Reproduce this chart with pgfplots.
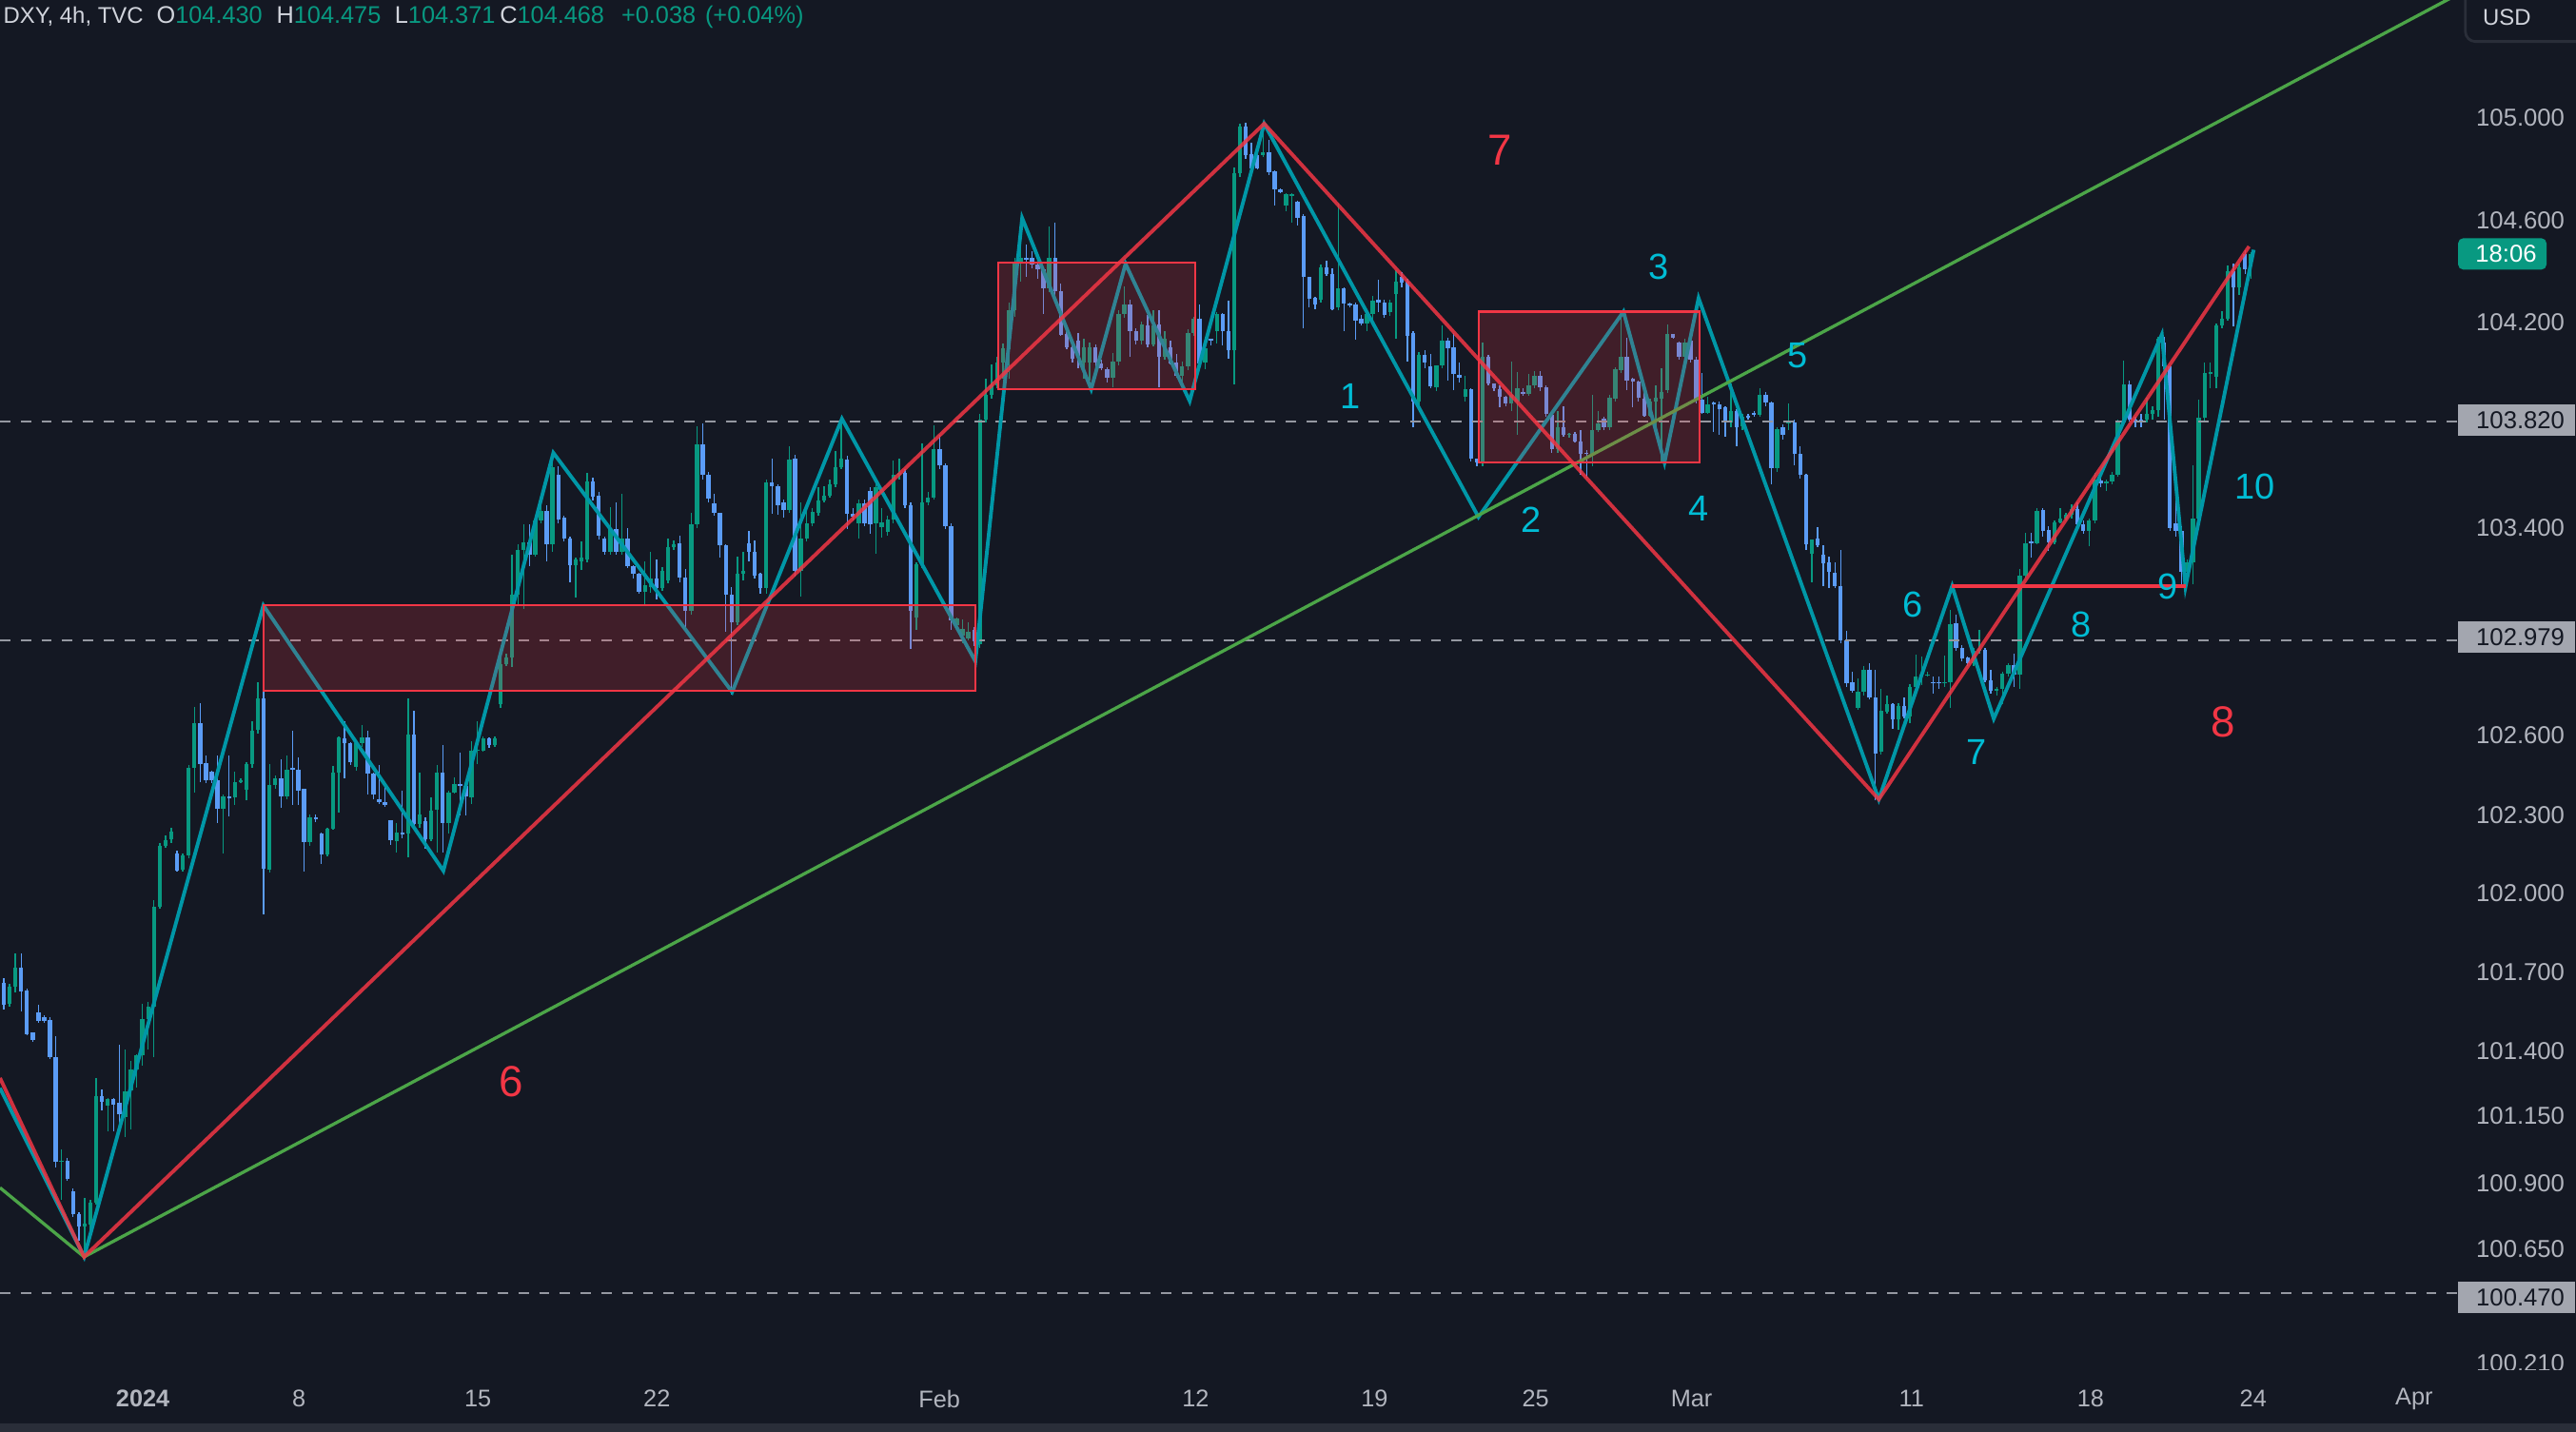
\documentclass[border=0pt]{standalone}
\usepackage{pgfplots}
\pgfplotsset{compat=1.18}
\usepackage{pgfplotstable}
\usepackage{fontspec}
\setmainfont{Liberation Sans}
\definecolor{bg}{RGB}{20,24,35}
\definecolor{upc}{RGB}{8,153,129}
\definecolor{dnc}{RGB}{91,156,246}
\definecolor{zig}{RGB}{0,151,167}
\definecolor{cyanlbl}{RGB}{0,188,212}
\definecolor{redc}{RGB}{242,54,69}
\definecolor{grn}{RGB}{76,165,72}
\definecolor{dashg}{RGB}{149,152,161}
\definecolor{tickg}{RGB}{178,181,190}
\definecolor{hdrg}{RGB}{209,212,220}
\definecolor{lblbg}{RGB}{163,166,175}
\definecolor{sepc}{RGB}{42,46,57}

\pgfplotstableread{
o h l c
101.661 101.68 101.56 101.580
101.580 101.66 101.57 101.646
101.646 101.776 101.624 101.721
101.721 101.776 101.553 101.630
101.635 101.64 101.46 101.467
101.470 101.47 101.435 101.442
101.548 101.580 101.51 101.517
101.529 101.54 101.51 101.517
101.520 101.53 101.37 101.376
101.376 101.459 100.952 100.976
100.976 101.023 100.827 100.980
100.980 100.99 100.90 100.908
100.861 100.87 100.76 100.772
100.772 100.78 100.670 100.725
100.725 100.835 100.607 100.736
100.733 100.83 100.70 100.819
100.819 101.297 100.81 101.227
101.227 101.253 101.172 101.206
101.191 101.22 101.093 101.216
101.216 101.22 101.093 101.195
101.200 101.423 101.117 101.156
101.148 101.407 101.070 101.247
101.247 101.360 101.100 101.329
101.329 101.39 101.26 101.384
101.384 101.580 101.344 101.525
101.525 101.588 101.407 101.572
101.572 101.980 101.376 101.956
101.956 102.20 101.95 102.191
102.191 102.23 102.18 102.210
102.215 102.26 102.20 102.246
102.160 102.17 102.09 102.097
102.097 102.16 102.09 102.152
102.152 102.50 102.14 102.489
102.489 102.725 102.395 102.662
102.662 102.740 102.435 102.505
102.508 102.536 102.43 102.442
102.474 102.48 102.43 102.442
102.442 102.536 102.278 102.333
102.333 102.387 102.160 102.380
102.380 102.536 102.301 102.376
102.376 102.474 102.348 102.435
102.435 102.45 102.43 102.442
102.408 102.51 102.364 102.505
102.505 102.670 102.489 102.634
102.634 102.819 102.62 102.756
102.756 102.787 101.925 102.100
102.100 102.505 102.089 102.424
102.424 102.46 102.41 102.450
102.450 102.521 102.336 102.380
102.380 102.536 102.37 102.482
102.489 102.631 102.348 102.482
102.482 102.529 102.345 102.403
102.408 102.41 102.089 102.204
102.204 102.31 102.19 102.301
102.301 102.31 102.28 102.293
102.238 102.24 102.121 102.157
102.157 102.26 102.15 102.254
102.254 102.497 102.25 102.471
102.471 102.61 102.317 102.607
102.602 102.670 102.450 102.584
102.584 102.59 102.50 102.513
102.494 102.59 102.48 102.584
102.584 102.654 102.57 102.607
102.607 102.631 102.387 102.466
102.466 102.47 102.37 102.387
102.369 102.50 102.35 102.357
102.357 102.43 102.34 102.348
102.287 102.29 102.192 102.210
102.210 102.277 102.162 102.242
102.242 102.401 102.217 102.236
102.236 102.759 102.147 102.617
102.617 102.708 102.26 102.274
102.274 102.471 102.26 102.312
102.287 102.30 102.179 102.217
102.217 102.376 102.21 102.327
102.327 102.503 102.166 102.471
102.471 102.579 102.166 102.277
102.277 102.40 102.236 102.395
102.395 102.452 102.39 102.429
102.429 102.547 102.306 102.420
102.420 102.44 102.306 102.382
102.378 102.592 102.350 102.556
102.556 102.668 102.503 102.560
102.556 102.61 102.553 102.602
102.602 102.607 102.566 102.579
102.579 102.61 102.57 102.602
102.737 102.935 102.72 102.890
102.890 102.93 102.88 102.915
102.915 103.309 102.877 103.155
103.155 103.35 103.112 103.328
103.328 103.426 103.10 103.358
103.358 103.426 103.266 103.309
103.309 103.46 103.30 103.444
103.444 103.52 103.43 103.480
103.480 103.50 103.284 103.352
103.352 103.678 103.321 103.648
103.617 103.651 103.43 103.444
103.451 103.46 103.36 103.371
103.371 103.38 103.204 103.272
103.272 103.30 103.143 103.291
103.285 103.36 103.25 103.300
103.291 103.623 103.28 103.590
103.590 103.608 103.52 103.531
103.537 103.55 103.37 103.383
103.373 103.38 103.309 103.321
103.321 103.494 103.31 103.408
103.408 103.509 103.31 103.321
103.321 103.543 103.31 103.371
103.371 103.414 103.26 103.266
103.266 103.27 103.22 103.235
103.235 103.24 103.16 103.167
103.167 103.284 103.112 103.192
103.186 103.321 103.161 103.217
103.217 103.291 103.137 103.180
103.180 103.26 103.17 103.247
103.211 103.371 103.20 103.340
103.340 103.364 103.33 103.352
103.352 103.383 103.204 103.223
103.223 103.254 103.013 103.094
103.094 103.472 103.08 103.426
103.426 103.802 103.41 103.734
103.734 103.814 103.60 103.617
103.617 103.63 103.51 103.525
103.506 103.543 103.46 103.469
103.469 103.47 103.297 103.346
103.346 103.35 103.013 103.155
103.155 103.186 102.773 103.051
103.051 103.303 103.038 103.235
103.235 103.321 103.21 103.247
103.352 103.401 103.284 103.321
103.321 103.364 103.22 103.229
103.235 103.24 103.161 103.180
103.180 103.598 103.161 103.586
103.586 103.681 103.469 103.574
103.574 103.58 103.463 103.500
103.512 103.52 103.451 103.481
103.481 103.728 103.47 103.678
103.678 103.693 103.223 103.247
103.247 103.512 103.149 103.371
103.371 103.481 103.36 103.432
103.432 103.488 103.42 103.475
103.469 103.568 103.46 103.518
103.518 103.574 103.51 103.537
103.537 103.598 103.53 103.580
103.580 103.709 103.57 103.648
103.648 103.814 103.64 103.678
103.678 103.69 103.408 103.469
103.469 103.488 103.44 103.457
103.432 103.52 103.371 103.506
103.506 103.52 103.42 103.432
103.555 103.57 103.389 103.426
103.432 103.60 103.315 103.568
103.414 103.488 103.377 103.432
103.395 103.46 103.383 103.444
103.444 103.672 103.43 103.617
103.617 103.678 103.60 103.623
103.623 103.64 103.49 103.500
103.500 103.51 102.946 103.094
103.069 103.28 103.020 103.272
103.272 103.740 103.26 103.512
103.512 103.55 103.50 103.531
103.531 103.808 103.52 103.715
103.715 103.771 103.64 103.654
103.654 103.66 103.41 103.420
103.420 103.43 103.020 103.057
103.038 103.07 103.02 103.063
103.001 103.063 102.970 103.026
102.989 103.05 102.98 103.013
103.020 103.03 102.96 102.977
102.964 103.85 102.95 103.830
103.830 103.986 103.82 103.924
103.924 104.041 103.91 103.961
103.961 104.07 103.95 104.047
104.047 104.12 103.986 104.102
104.102 104.280 103.986 104.250
104.250 104.45 104.225 104.434
104.434 104.501 104.36 104.452
104.452 104.501 104.38 104.446
104.452 104.477 104.41 104.427
104.427 104.43 104.372 104.409
104.409 104.41 104.237 104.336
104.336 104.575 104.32 104.452
104.452 104.587 104.31 104.323
104.323 104.354 104.15 104.157
104.157 104.17 104.10 104.108
104.108 104.133 104.05 104.065
104.133 104.164 104.029 104.065
104.047 104.139 103.986 104.108
104.047 104.127 103.980 104.108
104.108 104.12 104.03 104.047
104.047 104.06 104.02 104.029
104.023 104.03 103.973 103.992
103.992 104.084 103.955 104.053
104.053 104.25 104.04 104.237
104.237 104.342 104.22 104.274
104.274 104.29 104.072 104.170
104.170 104.18 104.12 104.133
104.133 104.207 104.12 104.194
104.194 104.231 104.108 104.121
104.121 104.250 104.11 104.194
104.194 104.250 103.955 104.072
104.072 104.17 104.06 104.139
104.110 104.133 104.04 104.047
104.047 104.084 103.99 103.998
103.998 104.053 103.967 104.035
104.035 104.176 104.02 104.164
104.164 104.225 104.15 104.219
104.219 104.274 104.023 104.047
104.047 104.11 104.023 104.102
104.139 104.14 104.115 104.133
104.170 104.244 104.121 104.237
104.237 104.24 104.115 104.170
104.170 104.286 104.065 104.096
104.096 104.80 103.967 104.777
104.777 104.97 104.765 104.955
104.955 104.97 104.83 104.845
104.851 104.894 104.78 104.796
104.845 104.894 104.790 104.796
104.845 104.961 104.839 104.857
104.857 104.906 104.77 104.783
104.783 104.79 104.654 104.716
104.716 104.72 104.70 104.704
104.654 104.70 104.63 104.697
104.691 104.70 104.587 104.697
104.667 104.67 104.575 104.605
104.614 104.62 104.182 104.378
104.378 104.38 104.262 104.292
104.298 104.30 104.255 104.274
104.292 104.427 104.28 104.415
104.415 104.44 104.38 104.390
104.390 104.409 104.249 104.255
104.262 104.661 104.25 104.335
104.335 104.34 104.170 104.274
104.274 104.28 104.26 104.268
104.274 104.28 104.139 104.212
104.218 104.23 104.19 104.200
104.200 104.25 104.170 104.237
104.237 104.304 104.194 104.286
104.292 104.366 104.243 104.280
104.280 104.29 104.22 104.231
104.243 104.29 104.23 104.280
104.311 104.403 104.139 104.360
104.378 104.397 104.34 104.354
104.360 104.37 104.053 104.151
104.163 104.17 103.801 103.899
103.899 104.09 103.88 104.077
104.077 104.096 104.028 104.047
104.035 104.084 103.95 103.955
103.955 104.04 103.94 104.037
104.037 104.194 104.03 104.133
104.133 104.145 103.979 104.102
104.108 104.163 103.942 104.004
104.004 104.047 103.973 103.991
103.918 103.997 103.899 103.948
103.948 103.95 103.67 103.678
103.678 103.68 103.65 103.666
103.666 104.126 103.65 104.071
104.071 104.08 103.96 103.967
103.967 103.97 103.94 103.949
103.949 103.96 103.875 103.918
103.918 103.92 103.88 103.893
103.893 104.053 103.862 103.924
103.899 104.010 103.770 103.949
103.936 103.95 103.92 103.930
103.930 104.004 103.92 103.961
103.961 104.016 103.95 103.998
103.998 104.016 103.94 103.955
103.955 103.96 103.84 103.850
103.850 103.86 103.70 103.715
103.715 103.862 103.70 103.801
103.801 103.881 103.764 103.770
103.770 103.78 103.76 103.776
103.776 103.78 103.74 103.746
103.746 103.789 103.617 103.697
103.703 103.71 103.605 103.697
103.697 103.924 103.648 103.789
103.789 103.862 103.78 103.813
103.832 103.84 103.79 103.801
103.801 103.924 103.79 103.912
103.912 104.03 103.90 104.022
104.022 104.237 104.01 104.071
104.072 104.145 103.943 103.980
103.986 103.99 103.875 103.974
103.974 103.98 103.90 103.912
103.912 103.955 103.84 103.845
103.845 103.91 103.84 103.900
103.900 103.961 103.80 103.915
103.912 104.029 103.667 103.937
103.943 104.197 103.93 104.158
104.158 104.16 104.14 104.145
104.127 104.13 104.06 104.072
104.072 104.139 104.06 104.127
104.133 104.139 104.05 104.059
104.059 104.07 103.89 103.906
103.906 104.010 103.85 103.857
103.857 103.918 103.85 103.888
103.894 103.90 103.783 103.888
103.888 103.90 103.771 103.869
103.875 103.88 103.765 103.820
103.820 103.967 103.80 103.863
103.863 103.87 103.728 103.802
103.802 103.85 103.79 103.838
103.845 103.85 103.83 103.838
103.853 103.86 103.84 103.848
103.848 103.949 103.84 103.924
103.924 103.937 103.88 103.894
103.894 103.90 103.581 103.642
103.642 103.80 103.63 103.795
103.801 103.81 103.75 103.771
103.814 103.894 103.789 103.820
103.820 103.83 103.654 103.697
103.697 103.728 103.60 103.617
103.617 103.62 103.33 103.348
103.315 103.37 103.203 103.368
103.374 103.414 103.34 103.348
103.308 103.348 103.190 103.275
103.281 103.301 103.183 103.242
103.242 103.28 103.18 103.190
103.190 103.327 102.97 102.979
102.979 103.019 102.80 102.814
102.820 102.860 102.78 102.788
102.722 102.835 102.715 102.782
102.782 102.880 102.77 102.867
102.867 102.893 102.755 102.761
102.761 102.867 102.366 102.544
102.551 102.794 102.54 102.708
102.708 102.768 102.70 102.735
102.735 102.74 102.640 102.675
102.675 102.74 102.636 102.728
102.728 102.761 102.68 102.689
102.689 102.81 102.662 102.801
102.801 102.926 102.79 102.840
102.840 102.919 102.807 102.846
102.846 102.86 102.84 102.850
102.820 102.840 102.774 102.814
102.820 102.840 102.794 102.814
102.814 102.919 102.80 102.820
102.820 103.097 102.722 103.045
103.045 103.078 102.94 102.952
102.952 102.96 102.90 102.913
102.913 102.92 102.88 102.893
102.893 102.95 102.88 102.939
102.939 103.018 102.93 102.945
102.945 102.95 102.82 102.827
102.827 102.867 102.774 102.788
102.788 102.80 102.768 102.794
102.794 102.86 102.735 102.853
102.853 102.893 102.84 102.886
102.886 102.93 102.801 102.847
102.847 103.255 102.794 103.229
103.229 103.394 103.22 103.354
103.360 103.394 103.30 103.354
103.354 103.49 103.35 103.480
103.480 103.49 103.38 103.400
103.406 103.42 103.325 103.357
103.357 103.44 103.35 103.435
103.435 103.491 103.43 103.449
103.449 103.47 103.44 103.463
103.463 103.505 103.45 103.484
103.484 103.512 103.407 103.428
103.428 103.44 103.39 103.400
103.400 103.45 103.343 103.442
103.442 103.625 103.43 103.597
103.597 103.618 103.57 103.585
103.585 103.60 103.555 103.590
103.590 103.63 103.58 103.618
103.618 103.83 103.61 103.823
103.823 104.056 103.81 103.964
103.964 103.978 103.82 103.830
103.830 103.84 103.80 103.820
103.830 103.85 103.80 103.823
103.830 103.915 103.82 103.851
103.851 103.88 103.83 103.865
103.865 104.148 103.84 104.140
104.126 104.148 103.83 104.035
104.035 104.04 103.40 103.414
103.43 103.534 103.38 103.40
103.400 103.42 103.188 103.244
103.244 103.29 103.188 103.280
103.280 103.654 103.195 103.449
103.449 103.908 103.44 103.837
103.837 104.049 103.82 104.007
104.007 104.049 103.95 104.010
103.992 104.20 103.95 104.190
104.190 104.246 104.18 104.218
104.218 104.422 104.21 104.401
104.401 104.430 104.19 104.338
104.338 104.430 104.310 104.415
104.465 104.479 104.39 104.408
104.430 104.475 104.371 104.468
}\candles

\begin{document}
\begin{tikzpicture}
\fill[bg] (0,0) rectangle (27.07,15.05);
\fill[sepc] (0,0) rectangle (27.07,0.085);
\begin{axis}[
  at={(0cm,0.652cm)}, anchor=south west,
  width=25.896cm, height=14.398cm, scale only axis,
  xmin=-0.654, xmax=425.96, ymin=100.173, ymax=105.443,
  axis line style={draw=none}, ticks=none,
  clip mode=individual,
]
% wicks
\addplot[draw=none, forget plot, error bars/.cd, y dir=both, y explicit, error mark=none,
  error bar style={draw=upc, line width=0.38pt}]
  table[x expr=\coordindex, y expr={\thisrow{c}>=\thisrow{o} ? (\thisrow{h}+\thisrow{l})/2 : nan},
        y error expr={(\thisrow{h}-\thisrow{l})/2}] \candles;
\addplot[draw=none, forget plot, error bars/.cd, y dir=both, y explicit, error mark=none,
  error bar style={draw=dnc, line width=0.38pt}]
  table[x expr=\coordindex, y expr={\thisrow{c}<\thisrow{o} ? (\thisrow{h}+\thisrow{l})/2 : nan},
        y error expr={(\thisrow{h}-\thisrow{l})/2}] \candles;
% bodies
\addplot[draw=none, forget plot, error bars/.cd, y dir=both, y explicit, error mark=none,
  error bar style={draw=upc, line width=1.25pt}]
  table[x expr=\coordindex, y expr={\thisrow{c}>=\thisrow{o} ? (\thisrow{o}+\thisrow{c})/2 : nan},
        y error expr={max(abs(\thisrow{c}-\thisrow{o})/2,0.002)}] \candles;
\addplot[draw=none, forget plot, error bars/.cd, y dir=both, y explicit, error mark=none,
  error bar style={draw=dnc, line width=1.25pt}]
  table[x expr=\coordindex, y expr={\thisrow{c}<\thisrow{o} ? (\thisrow{o}+\thisrow{c})/2 : nan},
        y error expr={max(abs(\thisrow{c}-\thisrow{o})/2,0.002)}] \candles;
% dashed levels
\addplot[dashg, line width=0.55pt, dash pattern=on 3.1pt off 3.1pt] coordinates {(-0.654,103.82) (425.96,103.82)};
\addplot[dashg, line width=0.55pt, dash pattern=on 3.1pt off 3.1pt] coordinates {(-0.654,102.979) (425.96,102.979)};
\addplot[dashg, line width=0.55pt, dash pattern=on 3.1pt off 3.1pt] coordinates {(-0.654,100.47) (425.96,100.47)};
% teal zigzag
\addplot[zig, line width=1.1pt, line join=miter] coordinates {
(-0.654,101.257) (13.91,100.608) (44.94,103.114) (76.1,102.093) (95.14,103.701)
(126.1,102.781) (145.1,103.832) (168.2,102.899) (176.3,104.604) (188.25,103.946)
(194.2,104.428) (205.3,103.900) (218.2,104.967) (255.3,103.454) (280.4,104.244)
(287.5,103.664) (293.4,104.296) (324.6,102.368) (337.3,103.188) (344.5,102.678)
(373.6,104.156) (377.7,103.186) (389.5,104.482)};
% green trend line
\addplot[grn, line width=0.95pt] coordinates {(-0.654,100.874) (13.91,100.608) (440,105.644)};
% boxes
\addplot[draw=redc, line width=0.6pt, fill=redc, fill opacity=0.2] coordinates {(44.94,102.784) (168.2,102.784) (168.2,103.114) (44.94,103.114)} -- cycle;
\addplot[draw=redc, line width=0.6pt, fill=redc, fill opacity=0.2] coordinates {(172.2,103.946) (206.3,103.946) (206.3,104.434) (172.2,104.434)} -- cycle;
\addplot[draw=redc, line width=0.6pt, fill=redc, fill opacity=0.2] coordinates {(255.3,103.664) (293.5,103.664) (293.5,104.244) (255.3,104.244)} -- cycle;
% red zigzag
\addplot[redc, opacity=0.85, line width=1.1pt] coordinates {
(-0.654,101.296) (13.91,100.608) (218.2,104.967) (324.6,102.368) (388.7,104.495)};
\addplot[redc, line width=1.1pt] coordinates {(337.3,103.188) (377.7,103.188)};
\end{axis}

\begin{scope}[yshift=15.05cm, x=0.017264cm, y=-0.017264cm]
% header
\begin{scope}[every node/.style={anchor=base west, inner sep=0pt, font=\fontsize{7.2}{8}\selectfont}]
\node[text=hdrg, font=\fontsize{6.8}{8}\selectfont] at (1.7,14.5) {DXY, 4h, TVC};
\node[text=hdrg] at (95,14.5) {O\textcolor{upc}{104.430}};
\node[text=hdrg] at (168,14.5) {H\textcolor{upc}{104.475}};
\node[text=hdrg] at (240,14.5) {L\textcolor{upc}{104.371}};
\node[text=hdrg] at (304,14.5) {C\textcolor{upc}{104.468}};
\node[text=upc] at (378,14.5) {+0.038};
\node[text=upc] at (429,14.5) {(+0.04\%)};
\end{scope}
% USD box
\draw[sepc, line width=0.8pt, rounded corners=3pt] (1501.2,-8) rectangle (1590,25.3);
\node[text=hdrg, inner sep=0pt, font=\fontsize{6.8}{8}\selectfont] at (1526.5,10.4) {USD};
% price labels
\begin{scope}[every node/.style={anchor=east, inner sep=0pt, text=tickg, font=\fontsize{7.3}{8}\selectfont}]
\node at (1562,71.8) {105.000};
\node at (1562,134.2) {104.600};
\node at (1562,196.4) {104.200};
\node at (1562,321.3) {103.400};
\node at (1562,447.9) {102.600};
\node at (1562,496.5) {102.300};
\node at (1562,544.0) {102.000};
\node at (1562,592.1) {101.700};
\node at (1562,640.1) {101.400};
\node at (1562,679.7) {101.150};
\node at (1562,720.4) {100.900};
\node at (1562,760.8) {100.650};
\end{scope}
\begin{scope}
\clip (1490,800) rectangle (1570,834.4);
\node[anchor=east, inner sep=0pt, text=tickg, font=\fontsize{7.3}{8}\selectfont] at (1562,830.1) {100.210};
\end{scope}
% highlighted labels
\fill[lblbg] (1496.8,246.5) rectangle (1568,265.3);
\node[anchor=east, inner sep=0pt, text=bg, font=\fontsize{7.3}{8}\selectfont] at (1562,255.9) {103.820};
\fill[lblbg] (1496.8,378.5) rectangle (1568,397.3);
\node[anchor=east, inner sep=0pt, text=bg, font=\fontsize{7.3}{8}\selectfont] at (1562,387.9) {102.979};
\fill[lblbg] (1496.8,780.6) rectangle (1568,799.4);
\node[anchor=east, inner sep=0pt, text=bg, font=\fontsize{7.3}{8}\selectfont] at (1562,790.0) {100.470};
\fill[upc, rounded corners=1.5pt] (1496.8,145.1) rectangle (1550.6,164.2);
\node[inner sep=0pt, text=white, font=\fontsize{7.3}{8}\selectfont] at (1526,154.6) {18:06};
% date labels
\begin{scope}[every node/.style={inner sep=0pt, text=tickg, font=\fontsize{7.2}{8}\selectfont}]
\node[font=\fontsize{7.2}{8}\selectfont\bfseries] at (87,851.9) {2024};
\node at (182,851.9) {8};
\node at (291,851.9) {15};
\node at (400,851.9) {22};
\node at (572,851.9) {Feb};
\node at (728,851.9) {12};
\node at (837,851.9) {19};
\node at (935,851.9) {25};
\node at (1030,851.9) {Mar};
\node at (1164,851.9) {11};
\node at (1273,851.9) {18};
\node at (1372,851.9) {24};
\node at (1470,851.9) {Apr};
\end{scope}
% wave labels
\begin{scope}[every node/.style={inner sep=0pt, text=cyanlbl, font=\fontsize{10.8}{12}\selectfont}]
\node at (822.5,241.4) {1};
\node at (932.6,316.3) {2};
\node at (1009.9,162.6) {3};
\node at (1034.6,309.9) {4};
\node at (1094.4,216.6) {5};
\node at (1164.9,368.3) {6};
\node at (1203.3,458.2) {7};
\node at (1267,380.4) {8};
\node at (1320.3,357.5) {9};
\node at (1373.2,296.1) {10};
\end{scope}
\begin{scope}[every node/.style={inner sep=0pt, text=redc, font=\fontsize{13}{14}\selectfont}]
\node at (311,659) {6};
\node at (913.3,91.7) {7};
\node at (1353.5,439.6) {8};
\end{scope}
\end{scope}
\pgfresetboundingbox
\useasboundingbox (0,0) rectangle (27.07,15.05);
\end{tikzpicture}
\end{document}
